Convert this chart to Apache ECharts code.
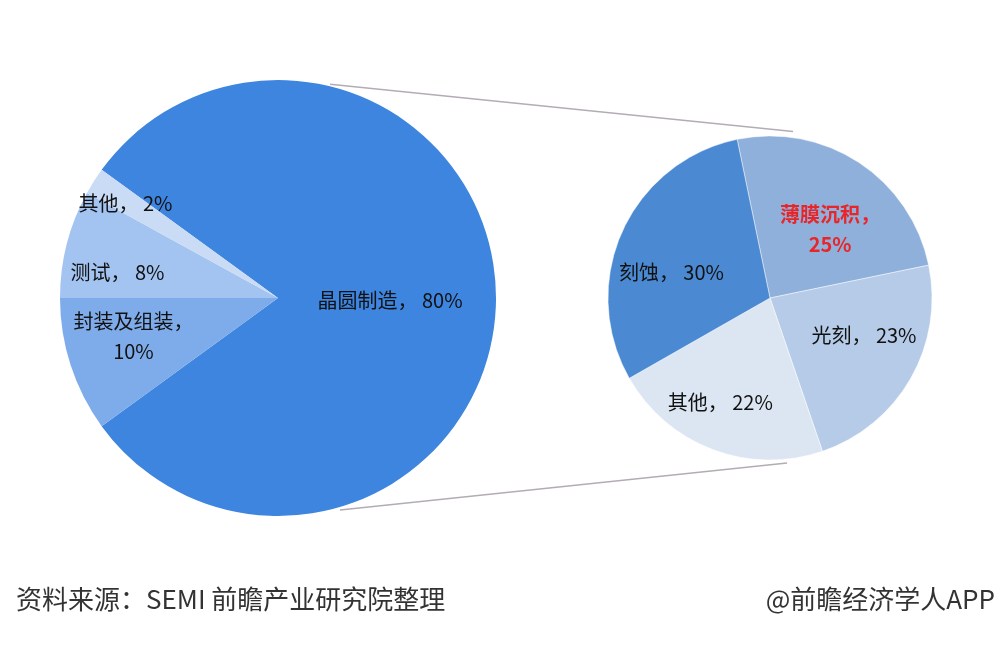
<!DOCTYPE html>
<html>
<head>
<meta charset="utf-8">
<title>半导体设备投资结构</title>
<script src="https://cdn.jsdelivr.net/npm/echarts@6/dist/echarts.min.js"></script>
<style>
  * { margin: 0; padding: 0; }
  html, body { width: 100%; height: 100%; background: #fff; }
  #main { width: 1000px; height: 648px; }
</style>
</head>
<body>
<div id="main"></div>
<script>
// 左侧大饼图：半导体设备投资结构
var bigNames = ['晶圆制造', '封装及组装', '测试', '其他'];
var bigValues = [80, 10, 8, 2];
// 右侧小饼图：晶圆制造设备细分
var smallNames = ['薄膜沉积', '光刻', '其他', '刻蚀'];
var smallValues = [25, 23, 22, 30];

var bigColors = ['#3d85df', '#7eacea', '#a3c3f0', '#c9dbf5'];
var smallColors = ['#8eb0da', '#b5cbe7', '#dce6f3', '#4b8ad2'];

var BIG_C = [278, 298], BIG_R = 218;
var SMALL_C = [770, 298], SMALL_R = 162;

// 标签偏移（相对默认内部位置）
var bigOffset = { '晶圆制造': [0, 2], '封装及组装': [-38, 4], '测试': [-52, 2], '其他': [-58, -35] };
var smallOffset = { '薄膜沉积': [14, 2], '光刻': [21, -4], '其他': [-20, 26], '刻蚀': [-22, 9] };
var wrapNames = ['封装及组装', '薄膜沉积'];

function pt(c, r, deg) {
  var a = deg * Math.PI / 180;
  return [c[0] + r * Math.cos(a), c[1] - r * Math.sin(a)];
}

function fmt(p) {
  return p.name + '，' + (wrapNames.indexOf(p.name) >= 0 ? '\n' : ' ') + p.value + '%';
}

var chart = echarts.init(document.getElementById('main'));

var p1 = pt(BIG_C, 220, 76.3), p2 = pt(SMALL_C, 168, 82.1);
var p3 = pt(BIG_C, 221, -73.7), p4 = pt(SMALL_C, 166, -84.1);

var labelFont = {
  position: 'inside',
  formatter: fmt,
  color: '#111',
  fontSize: 20,
  lineHeight: 30,
  fontFamily: 'Noto Sans CJK SC'
};

chart.setOption({
  backgroundColor: '#fff',
  animation: false,
  graphic: [
    { type: 'line', shape: { x1: p1[0], y1: p1[1], x2: p2[0], y2: p2[1] }, style: { stroke: '#b3acb4', lineWidth: 1.5 }, z: 0 },
    { type: 'line', shape: { x1: p3[0], y1: p3[1], x2: p4[0], y2: p4[1] }, style: { stroke: '#b3acb4', lineWidth: 1.5 }, z: 0 },
    {
      type: 'text', left: 16, top: 586,
      style: { text: '资料来源：SEMI 前瞻产业研究院整理', fill: '#333', fontSize: 26, fontFamily: 'Noto Sans CJK SC' }
    },
    {
      type: 'text', right: 5, top: 586,
      style: { text: '@前瞻经济学人APP', fill: '#333', fontSize: 26, fontFamily: 'Noto Sans CJK SC' }
    }
  ],
  series: [
    {
      type: 'pie',
      center: BIG_C,
      radius: [0, BIG_R],
      startAngle: 144,
      clockwise: true,
      silent: true,
      label: labelFont,
      labelLine: { show: false },
      labelLayout: function (params) {
        var o = bigOffset[bigNames[params.dataIndex]];
        return { dx: o[0], dy: o[1] };
      },
      itemStyle: { borderWidth: 0 },
      data: bigNames.map(function (n, i) {
        return { name: n, value: bigValues[i], itemStyle: { color: bigColors[i] } };
      })
    },
    {
      type: 'pie',
      center: SMALL_C,
      radius: [0, SMALL_R],
      startAngle: 101.7,
      clockwise: true,
      silent: true,
      label: labelFont,
      labelLine: { show: false },
      labelLayout: function (params) {
        var o = smallOffset[smallNames[params.dataIndex]];
        return { dx: o[0], dy: o[1] };
      },
      itemStyle: { borderColor: 'rgba(255,255,255,0.45)', borderWidth: 1 },
      data: smallNames.map(function (n, i) {
        var item = { name: n, value: smallValues[i], itemStyle: { color: smallColors[i] } };
        if (n === '薄膜沉积') {
          item.label = { color: '#e8262a', fontWeight: 'bold' };
        }
        return item;
      })
    }
  ]
});
window.onresize = chart.resize;
</script>
</body>
</html>
